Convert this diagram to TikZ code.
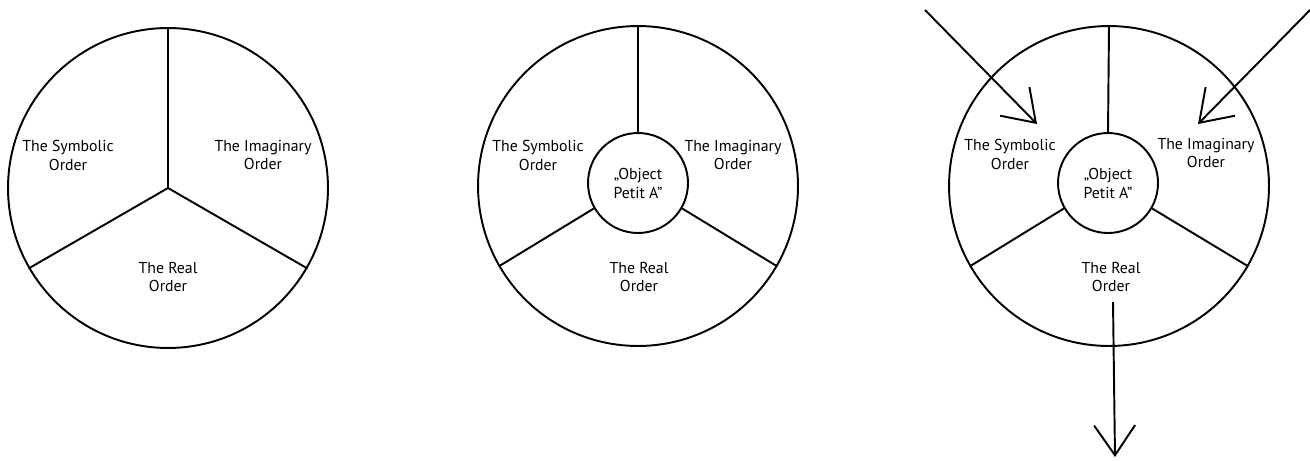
\documentclass[tikz,border=0pt]{standalone}
\usepackage{fontspec}
\setmainfont{PT Sans}
\usetikzlibrary{arrows.meta,positioning}

\begin{document}
\begin{tikzpicture}[
  x=0.02cm,y=-0.02cm,
  font=\fontsize{9}{10.8}\selectfont,
  ring/.style={circle,draw,line width=1.1pt,minimum size=6.4cm,inner sep=0pt},
  core/.style={circle,draw,line width=1.1pt,minimum size=2cm,inner sep=0pt,align=center},
  sector/.style={align=center,inner sep=1pt},
  spoke/.style={line width=1.1pt},
  pointer/.style={line width=1.1pt,-{Straight Barb[length=6mm,width=8.2mm,line width=1.1pt]}}
]
\useasboundingbox (0,0) rectangle (1310,460);
% plain triad
\node[ring] (ringA) at (168,188) {};
\coordinate (hubA) at (168,188);
\foreach \a in {90,210,330}
  \draw[spoke] (hubA) -- (ringA.\a);
\node[sector] (symA) at (68,155) {The Symbolic\\Order};
\node[sector] (imgA) at (263,155) {The Imaginary\\Order};
\node[sector] (realA) at (168,277) {The Real\\Order};
% triad with object
\node[ring] (ringB) at (638,186) {};
\node[core] (coreB) at (638,183) {„Object\\Petit A”};
\foreach \a in {90,210,330}
  \draw[spoke] (coreB.\a) -- (ringB.\a);
\node[sector] (symB) at (538,155) {The Symbolic\\Order};
\node[sector] (imgB) at (733,155) {The Imaginary\\Order};
\node[sector] (realB) at (639,277) {The Real\\Order};
% triad with object and flows
\node[ring] (ringC) at (1109,186) {};
\node[core] (coreC) at (1108,183) {„Object\\Petit A”};
\foreach \a in {90,210,330}
  \draw[spoke] (coreC.\a) -- (ringC.\a);
\node[sector] (symC) at (1010,154) {The Symbolic\\Order};
\node[sector] (imgC) at (1206,153) {The Imaginary\\Order};
\node[sector] (realC) at (1111,277) {The Real\\Order};
\coordinate (inL) at (925,10);
\coordinate (tipL) at (1037,124);
\coordinate (inR) at (1310,10);
\coordinate (tipR) at (1198,124);
\coordinate (outS) at (1113,302);
\coordinate (tipS) at (1115,457);
\draw[pointer] (inL) -- (tipL);
\draw[pointer] (inR) -- (tipR);
\draw[pointer] (outS) -- (tipS);
\end{tikzpicture}
\end{document}
